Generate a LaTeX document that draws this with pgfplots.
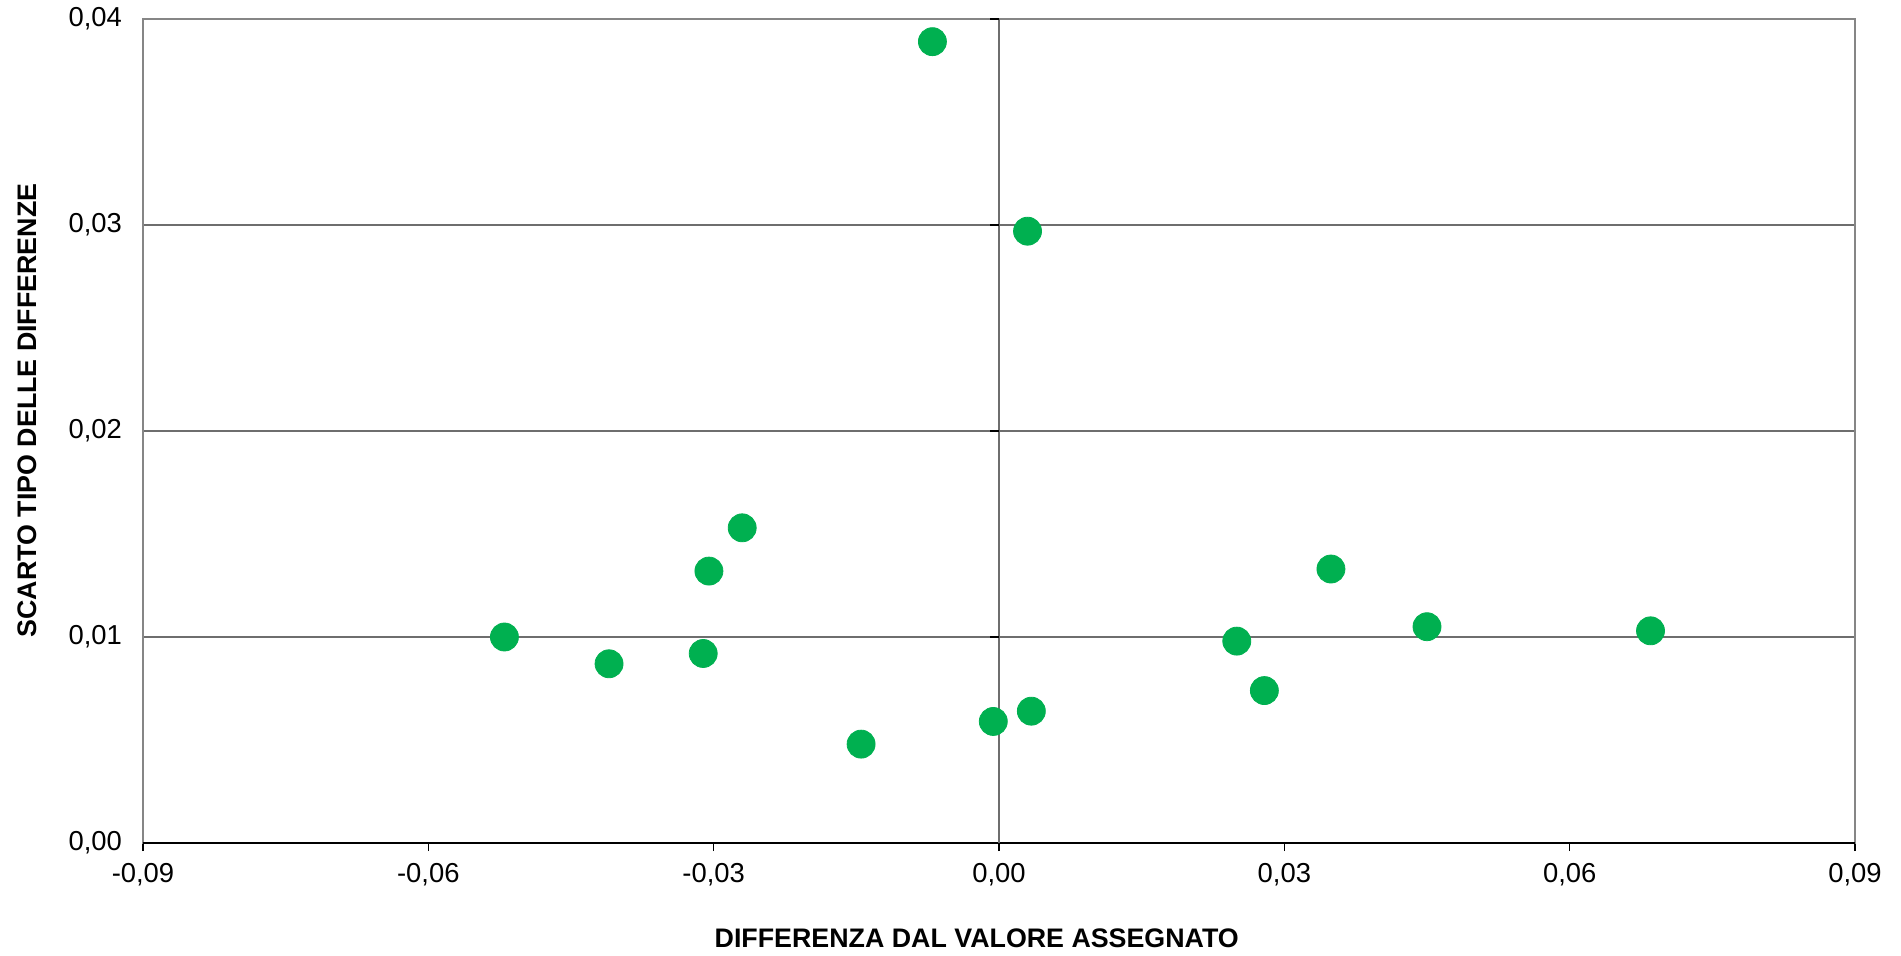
\documentclass[border=0pt]{standalone}
\usepackage{fontspec}
\setmainfont{Liberation Sans}
\usepackage{pgfplots}
\pgfplotsset{compat=1.18}
\definecolor{ptgreen}{HTML}{00B050}
\definecolor{framegray}{HTML}{868686}
\definecolor{gridgray}{HTML}{6E6E6E}
\begin{document}
\begin{tikzpicture}
\begin{axis}[
  scale only axis, width=856pt, height=412pt,
  xmin=-0.09, xmax=0.09, ymin=0, ymax=0.04,
  xtick={-0.09,-0.06,-0.03,0,0.03,0.06,0.09},
  ytick={0,0.01,0.02,0.03,0.04},
  scaled ticks=false,
  ymajorgrids,
  major grid style={color=gridgray, line width=0.6pt},
  axis line style={framegray, line width=1pt},
  tick align=outside, major tick length=4pt,
  xtick pos=bottom, ytick pos=left,
  xtick style={color=black, line width=0.6pt},
  ytick style={draw=none},
  ticklabel style={font=\fontsize{13.7}{16}\selectfont},
  yticklabel style={xshift=-3pt},
  xticklabel style={yshift=-2.5pt},
  /pgf/number format/.cd, use comma, fixed, fixed zerofill, precision=2, assume math mode=true,
  /pgfplots/.cd,
  xlabel={DIFFERENZA DAL VALORE ASSEGNATO},
  ylabel={SCARTO TIPO DELLE DIFFERENZE},
  xlabel style={at={(axis description cs:0.487,-0.1153)}, anchor=center, font=\bfseries\fontsize{13.4}{16}\selectfont},
  ylabel style={at={(axis description cs:-0.0678,0.525)}, anchor=center, font=\bfseries\fontsize{13.4}{16}\selectfont},
  clip=false,
]
\draw[black, line width=0.8pt] (axis cs:-0.09,0) -- (axis cs:0.09,0);
\draw[gridgray, line width=0.6pt] (axis cs:0,0) -- (axis cs:0,0.04);
\draw[black, line width=0.6pt] (axis cs:0,0.01) -- (axis cs:-0.0009,0.01);
\draw[black, line width=0.6pt] (axis cs:0,0.02) -- (axis cs:-0.0009,0.02);
\draw[black, line width=0.6pt] (axis cs:0,0.03) -- (axis cs:-0.0009,0.03);
\draw[black, line width=0.6pt] (axis cs:0,0.04) -- (axis cs:-0.0009,0.04);
\addplot[only marks, mark=*, mark size=7pt, mark options={fill=ptgreen, draw=ptgreen}] table {
x y
-0.0070 0.0389
0.0030 0.0297
-0.0270 0.0153
-0.0305 0.0132
-0.0520 0.0100
-0.0410 0.0087
-0.0311 0.0092
-0.0145 0.0048
-0.0006 0.0059
0.0034 0.0064
0.0250 0.0098
0.0279 0.0074
0.0349 0.0133
0.0450 0.0105
0.0685 0.0103
};
\end{axis}
\pgfresetboundingbox
\path (-71.5pt,-56pt) rectangle (879pt,421.5pt);
\end{tikzpicture}
\end{document}
